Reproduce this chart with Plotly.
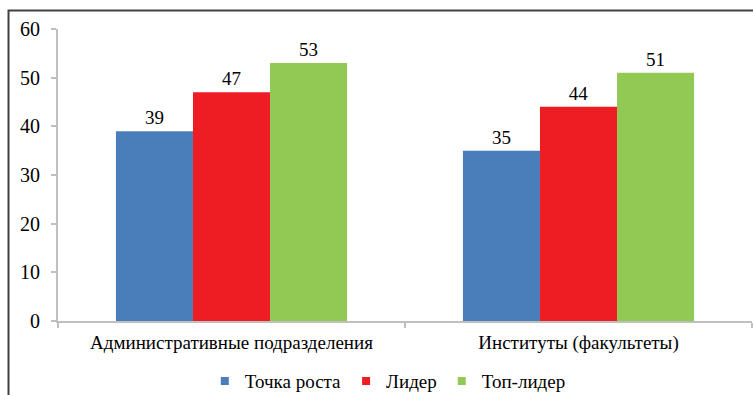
import plotly.graph_objects as go

categories = ["Административные подразделения", "Институты (факультеты)"]
series_names = ["Точка роста", "Лидер", "Топ-лидер"]
values_rost = [39, 35]
values_lider = [47, 44]
values_top = [53, 51]
colors = ["#4A7EBB", "#EE1D23", "#92C955"]
y_ticks = [0, 10, 20, 30, 40, 50, 60]

FONT = "Liberation Serif"
fig = go.Figure()
for name, vals, col in zip(series_names, [values_rost, values_lider, values_top], colors):
    fig.add_trace(go.Bar(
        x=categories, y=vals, name=name, marker_color=col, marker_line_width=0,
        text=[str(v) for v in vals], textposition="outside", showlegend=False,
        textfont=dict(family=FONT, size=19, color="#000"), cliponaxis=False,
    ))
# legend entries with small square symbols
for name, col in zip(series_names, colors):
    fig.add_trace(go.Scatter(
        x=[None], y=[None], mode="markers", name=name,
        marker=dict(symbol="square", size=8, color=col),
    ))

fig.update_layout(
    width=753, height=395,
    margin=dict(l=58, r=1, t=29, b=74, autoexpand=False),
    paper_bgcolor="white", plot_bgcolor="white",
    barmode="group", bargap=0.334, bargroupgap=0,
    font=dict(family=FONT, color="#000"),
    showlegend=True,
    legend=dict(orientation="h", x=0.515, xref="container", xanchor="center",
                yref="container", y=0.035, yanchor="middle",
                font=dict(family=FONT, size=19), traceorder="normal",
                itemwidth=30),
    xaxis=dict(showline=True, linecolor="#BFBFBF", linewidth=2, ticks="outside",
               tickson="boundaries", ticklen=5, tickcolor="#BFBFBF", tickwidth=2,
               tickfont=dict(family=FONT, size=19), showgrid=False, automargin=False,
               ticklabelstandoff=3),
    yaxis=dict(range=[0, 60], tickvals=y_ticks, showline=True, linecolor="#BFBFBF",
               linewidth=2, ticks="outside", ticklen=5, tickcolor="#BFBFBF", tickwidth=2,
               tickfont=dict(family=FONT, size=20), showgrid=False, zeroline=False,
               automargin=False, ticklabelstandoff=7),
    shapes=[dict(type="rect", xref="paper", yref="paper", x0=-0.0713, x1=1.2,
                 y0=-0.6, y1=1.063, line=dict(color="#404040", width=2))],
)
fig.write_html("out.html")
